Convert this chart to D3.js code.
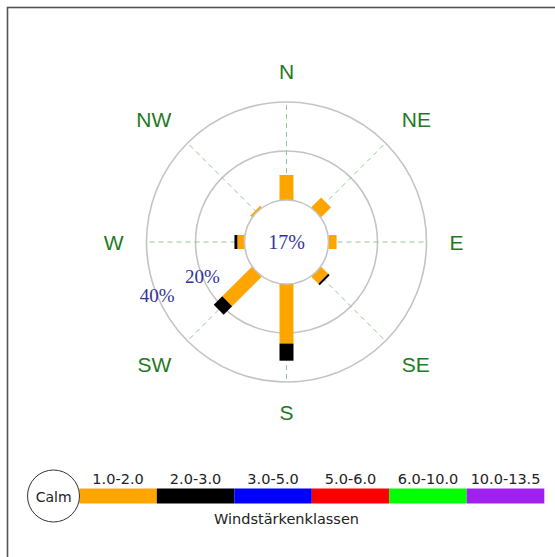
<!DOCTYPE html>
<html>
<head>
<meta charset="utf-8">
<script src="https://cdn.jsdelivr.net/npm/d3@7"></script>
<style>
  body { margin: 0; background: #fff; }
  svg { display: block; }
</style>
</head>
<body>
<div id="chart"></div>
<script>
// wind directions (compass order) and share per speed class, in %
var directions = ['N', 'NE', 'E', 'SE', 'S', 'SW', 'W', 'NW'];
var dirAngles = [0, 45, 90, 135, 180, 225, 270, 315];
var speedClasses = ['1.0-2.0', '2.0-3.0', '3.0-5.0', '5.0-6.0', '6.0-10.0', '10.0-13.5'];
var classColors = ['#ffa500', '#000000', '#0000ff', '#ff0000', '#00ff00', '#a020f0'];
var s1to2 = [10.2, 5.7, 3.3, 4.1, 24.3, 17.1, 2.9, 0.9];
var s2to3 = [0, 0, 0, 0.8, 7.0, 4.9, 1.2, 0];
var s3to5 = [0, 0, 0, 0, 0, 0, 0, 0];
var s5to6 = [0, 0, 0, 0, 0, 0, 0, 0];
var s6to10 = [0, 0, 0, 0, 0, 0, 0, 0];
var s10to13 = [0, 0, 0, 0, 0, 0, 0, 0];
var calm = 17;
var ringTicks = [20, 40];
var tickAngle = 247.5; // WSW, where ring labels sit

var series = [s1to2, s2to3, s3to5, s5to6, s6to10, s10to13];

var width = 555, height = 557;
var cx = 286.5, cy = 242;

var svg = d3.select('#chart').append('svg')
  .attr('width', width)
  .attr('height', height);

// frame (cut off at right/bottom like the original)
svg.append('rect')
  .attr('x', 7.5).attr('y', 7.5)
  .attr('width', 620).attr('height', 620)
  .attr('fill', 'none')
  .attr('stroke', '#555')
  .attr('stroke-width', 1.6);

var r = d3.scaleLinear().domain([0, 40]).range([42, 140]);

var g = svg.append('g').attr('transform', 'translate(' + cx + ',' + cy + ')');

function pt(angle, rad) {
  var a = angle * Math.PI / 180;
  return [rad * Math.sin(a), -rad * Math.cos(a)];
}

// rings
g.selectAll('circle.ring')
  .data(ringTicks)
  .enter().append('circle')
  .attr('class', 'ring')
  .attr('r', function(d) { return r(d); })
  .attr('fill', 'none')
  .attr('stroke', '#c4c4c4')
  .attr('stroke-width', 1.6);

// spokes
g.selectAll('line.spoke')
  .data(dirAngles)
  .enter().append('line')
  .attr('class', 'spoke')
  .attr('x1', function(d) { return pt(d, r(0))[0]; })
  .attr('y1', function(d) { return pt(d, r(0))[1]; })
  .attr('x2', function(d) { return pt(d, r(40))[0]; })
  .attr('y2', function(d) { return pt(d, r(40))[1]; })
  .attr('stroke', '#96c496')
  .attr('stroke-width', 1)
  .attr('stroke-dasharray', '5,4');

// stacked bars
var stacked = directions.map(function(dir, i) {
  var base = 0;
  return series.map(function(s, k) {
    var seg = { dir: i, k: k, y0: base, y1: base + s[i] };
    base += s[i];
    return seg;
  }).filter(function(seg) { return seg.y1 > seg.y0; });
});

var barW = 14;
directions.forEach(function(dir, i) {
  var bg = g.append('g').attr('transform', 'rotate(' + dirAngles[i] + ')');
  bg.selectAll('rect')
    .data(stacked[i])
    .enter().append('rect')
    .attr('x', -barW / 2)
    .attr('y', function(d) { return -r(d.y1); })
    .attr('width', barW)
    .attr('height', function(d) { return r(d.y1) - r(d.y0); })
    .attr('fill', function(d) { return classColors[d.k]; });
});

// calm circle
g.append('circle')
  .attr('r', r(0))
  .attr('fill', '#fff')
  .attr('stroke', '#c4c4c4')
  .attr('stroke-width', 1.6);

g.append('text')
  .attr('x', 0).attr('y', 7)
  .attr('text-anchor', 'middle')
  .attr('font-family', '"Liberation Serif", "Times New Roman", serif')
  .attr('font-size', 20)
  .attr('fill', '#333399')
  .text(calm + '%');

// ring labels
g.selectAll('text.tick')
  .data(ringTicks)
  .enter().append('text')
  .attr('class', 'tick')
  .attr('x', function(d) { return pt(tickAngle, r(d))[0]; })
  .attr('y', function(d) { return pt(tickAngle, r(d))[1] + 6; })
  .attr('text-anchor', 'middle')
  .attr('font-family', '"Liberation Serif", "Times New Roman", serif')
  .attr('font-size', 19)
  .attr('fill', '#333399')
  .text(function(d) { return d + '%'; });

// direction labels
var labelR = 163, capH = 15;
g.selectAll('text.dir')
  .data(directions)
  .enter().append('text')
  .attr('class', 'dir')
  .attr('x', function(d, i) { return pt(dirAngles[i], labelR)[0]; })
  .attr('y', function(d, i) {
    var p = pt(dirAngles[i], labelR), c = Math.cos(dirAngles[i] * Math.PI / 180);
    if (c > 0.1) return p[1];
    if (c < -0.1) return p[1] + capH;
    return p[1] + capH / 2;
  })
  .attr('text-anchor', function(d, i) {
    var s = Math.sin(dirAngles[i] * Math.PI / 180);
    return s > 0.1 ? 'start' : (s < -0.1 ? 'end' : 'middle');
  })
  .attr('font-family', '"Liberation Sans", Arial, sans-serif')
  .attr('font-size', 21)
  .attr('fill', '#1f7a1f')
  .text(function(d) { return d; });

// legend
var lx = 79.3, ly = 488.5, segW = 77.5, segH = 15;
var leg = svg.append('g');

leg.selectAll('rect')
  .data(speedClasses)
  .enter().append('rect')
  .attr('x', function(d, i) { return lx + i * segW; })
  .attr('y', ly)
  .attr('width', segW)
  .attr('height', segH)
  .attr('fill', function(d, i) { return classColors[i]; });

leg.selectAll('text.cls')
  .data(speedClasses)
  .enter().append('text')
  .attr('class', 'cls')
  .attr('x', function(d, i) { return lx + i * segW + segW / 2; })
  .attr('y', 484)
  .attr('text-anchor', 'middle')
  .attr('font-family', '"DejaVu Sans", Verdana, sans-serif')
  .attr('font-size', 14.5)
  .attr('fill', '#222')
  .text(function(d) { return d; });

leg.append('circle')
  .attr('cx', 53.5).attr('cy', 496)
  .attr('r', 26)
  .attr('fill', '#fff')
  .attr('stroke', '#333')
  .attr('stroke-width', 1);

leg.append('text')
  .attr('x', 53.7).attr('y', 501.5)
  .attr('text-anchor', 'middle')
  .attr('font-family', '"DejaVu Sans", Verdana, sans-serif')
  .attr('font-size', 14)
  .attr('fill', '#222')
  .text('Calm');

leg.append('text')
  .attr('x', cx).attr('y', 524)
  .attr('text-anchor', 'middle')
  .attr('font-family', '"DejaVu Sans", Verdana, sans-serif')
  .attr('font-size', 14.5)
  .attr('fill', '#222')
  .text('Windstärkenklassen');
</script>
</body>
</html>
